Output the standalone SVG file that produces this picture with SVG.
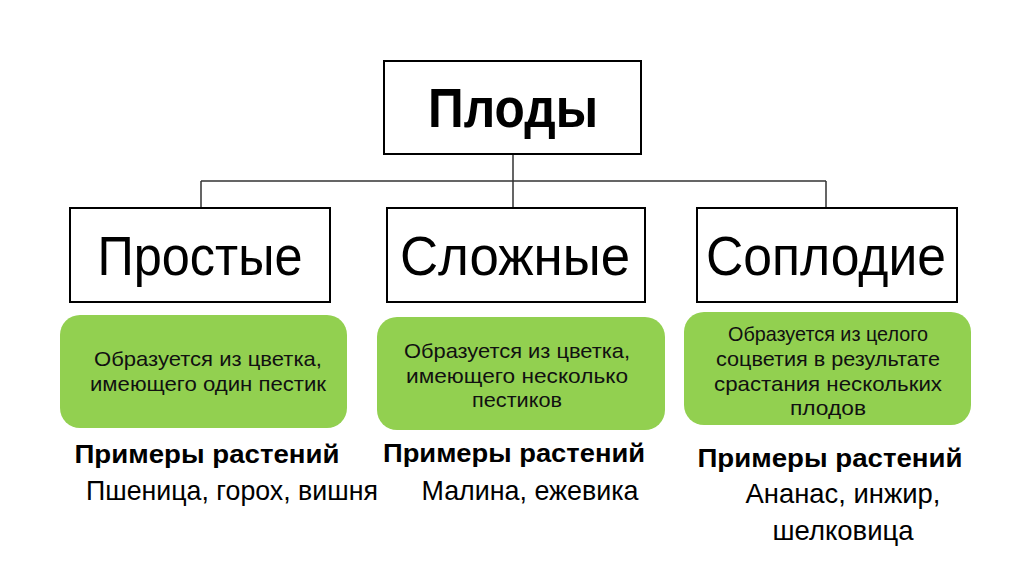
<svg xmlns="http://www.w3.org/2000/svg" width="1024" height="574" viewBox="0 0 1024 574">
<style>
.box{fill:#fff;stroke:#000;stroke-width:2}
.green{fill:#92D050;stroke:none}
.conn{stroke:#333;stroke-width:1.5;fill:none}
.title{font-family:"Liberation Sans",Arial,sans-serif;font-weight:bold;font-size:56px;fill:#000;text-anchor:middle}
.cat{font-family:"Liberation Sans",Arial,sans-serif;font-size:55px;fill:#000;text-anchor:middle}
.desc{font-family:"Liberation Sans",Arial,sans-serif;font-size:21px;fill:#111;text-anchor:middle}
.ex{font-family:"Liberation Sans",Arial,sans-serif;font-weight:bold;font-size:25px;fill:#000;text-anchor:middle}
.val{font-family:"Liberation Sans",Arial,sans-serif;font-size:28px;fill:#000;text-anchor:middle}
</style>
<rect width="1024" height="574" fill="#fff"/>
<g id="connectors">
<path class="conn" d="M513 154V208M201 181H826M201 181V208M826 181V208"/>
</g>
<g id="root">
<rect class="box" x="384" y="61" width="257" height="93"/>
<text class="title" x="513" y="127" textLength="170" lengthAdjust="spacingAndGlyphs">Плоды</text>
</g>
<g id="simple">
<rect class="box" x="70" y="208" width="260" height="94"/>
<text class="cat" x="200" y="275" textLength="205" lengthAdjust="spacingAndGlyphs">Простые</text>
<rect class="green" x="60" y="315" width="287" height="113" rx="20"/>
<text class="desc" x="208" y="366" textLength="228" lengthAdjust="spacingAndGlyphs">Образуется из цветка,</text>
<text class="desc" x="208" y="391" textLength="236" lengthAdjust="spacingAndGlyphs">имеющего один пестик</text>
<text class="ex" x="207" y="463" textLength="265" lengthAdjust="spacingAndGlyphs">Примеры растений</text>
<text class="val" x="232" y="500" textLength="292" lengthAdjust="spacingAndGlyphs">Пшеница, горох, вишня</text>
</g>
<g id="complex">
<rect class="box" x="387" y="208" width="258" height="94"/>
<text class="cat" x="515" y="275" textLength="230" lengthAdjust="spacingAndGlyphs">Сложные</text>
<rect class="green" x="377" y="317" width="288" height="113" rx="20"/>
<text class="desc" x="517" y="358" textLength="226" lengthAdjust="spacingAndGlyphs">Образуется из цветка,</text>
<text class="desc" x="517" y="383" textLength="222" lengthAdjust="spacingAndGlyphs">имеющего несколько</text>
<text class="desc" x="517" y="407" textLength="90" lengthAdjust="spacingAndGlyphs">пестиков</text>
<text class="ex" x="514" y="462" textLength="262" lengthAdjust="spacingAndGlyphs">Примеры растений</text>
<text class="val" x="530" y="500" textLength="217" lengthAdjust="spacingAndGlyphs">Малина, ежевика</text>
</g>
<g id="compound">
<rect class="box" x="697" y="208" width="260" height="94"/>
<text class="cat" x="826" y="275" textLength="240" lengthAdjust="spacingAndGlyphs">Соплодие</text>
<rect class="green" x="684" y="312" width="287" height="113" rx="20"/>
<text class="desc" x="828" y="341" textLength="200" lengthAdjust="spacingAndGlyphs">Образуется из целого</text>
<text class="desc" x="828" y="366" textLength="224" lengthAdjust="spacingAndGlyphs">соцветия в результате</text>
<text class="desc" x="828" y="391" textLength="228" lengthAdjust="spacingAndGlyphs">срастания нескольких</text>
<text class="desc" x="828" y="415" textLength="76" lengthAdjust="spacingAndGlyphs">плодов</text>
<text class="ex" x="830" y="467" textLength="265" lengthAdjust="spacingAndGlyphs">Примеры растений</text>
<text class="val" x="843" y="503" textLength="195" lengthAdjust="spacingAndGlyphs">Ананас, инжир,</text>
<text class="val" x="843" y="540" textLength="141" lengthAdjust="spacingAndGlyphs">шелковица</text>
</g>
</svg>
